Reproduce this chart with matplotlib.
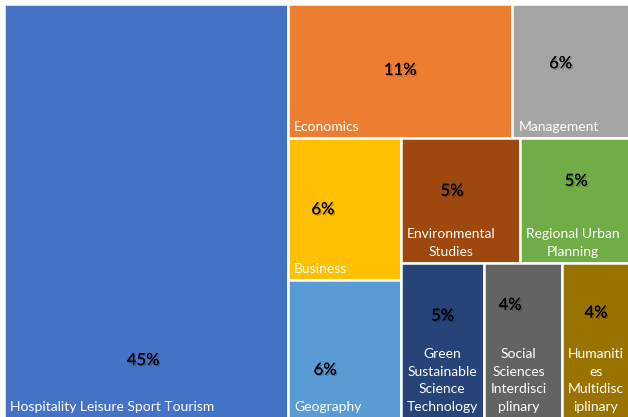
import matplotlib.pyplot as plt
import matplotlib.patches as mpatches
import matplotlib.patheffects as pe

# treemap data (share of records, %)
names = ['Hospitality Leisure Sport Tourism', 'Economics', 'Management', 'Business', 'Geography',
         'Environmental\nStudies', 'Regional Urban\nPlanning', 'Green\nSustainable\nScience\nTechnology',
         'Social\nSciences\nInterdisci\nplinary', 'Humaniti\nes\nMultidisc\niplinary']
shares = [45.37, 11.65, 6.10, 6.16, 6.00, 5.74, 5.28, 5.02, 4.64, 4.07]
pct_labels = ['45%', '11%', '6%', '6%', '6%', '5%', '5%', '5%', '4%', '4%']
colors = ['#4472C4', '#ED7D31', '#A5A5A5', '#FFC000', '#5B9BD5',
          '#9E480E', '#70AD47', '#264478', '#636363', '#997300']

# where the % label sits inside each tile (fraction of width, fraction of height from top)
pct_pos = [(0.49, 0.86), (0.50, 0.49), (0.41, 0.44), (0.31, 0.50), (0.33, 0.65),
           (0.43, 0.42), (0.51, 0.34), (0.50, 0.34), (0.33, 0.27), (0.50, 0.32)]

# nesting of the tiles as Excel laid them out: 'h' = side by side, 'v' = stacked
layout = ('h', [0, ('v', [('h', [1, 2]),
                          ('h', [('v', [3, 4]),
                                 ('v', [('h', [5, 6]), ('h', [7, 8, 9])])])])])


def total(node):
    if isinstance(node, int):
        return shares[node]
    return sum(total(c) for c in node[1])


def place(node, x, y, w, h, out):
    if isinstance(node, int):
        out[node] = (x, y, w, h)
        return
    kind, kids = node
    s = total(node)
    for c in kids:
        f = total(c) / s
        if kind == 'h':
            place(c, x, y, w * f, h, out)
            x += w * f
        else:
            place(c, x, y, w, h * f, out)
            y += h * f


W, H = 628, 417
fig = plt.figure(figsize=(W / 100, H / 100), dpi=100)
ax = fig.add_axes([0, 0, 1, 1])
ax.set_xlim(0, W)
ax.set_ylim(H, 0)
ax.axis('off')

rects = {}
place(layout, 4, 4, 626, 414, rects)

for i in range(len(names)):
    x, y, w, h = rects[i]
    ax.add_patch(mpatches.Rectangle((x, y), w, h, facecolor=colors[i], edgecolor='white', linewidth=1.8))
    ax.text(x + 6, y + h - 5, names[i], ha='left', va='bottom', multialignment='center',
            color='white', fontsize=10, family='Lato', linespacing=1.55)
    fx, fy = pct_pos[i]
    ax.text(x + w * fx, y + h * fy, pct_labels[i], ha='center', va='center', color='black',
            fontsize=12, family='Lato',
            path_effects=[pe.withSimplePatchShadow(offset=(1, -1), alpha=0.25), pe.Normal()])

fig.savefig('out.png', dpi=100)
